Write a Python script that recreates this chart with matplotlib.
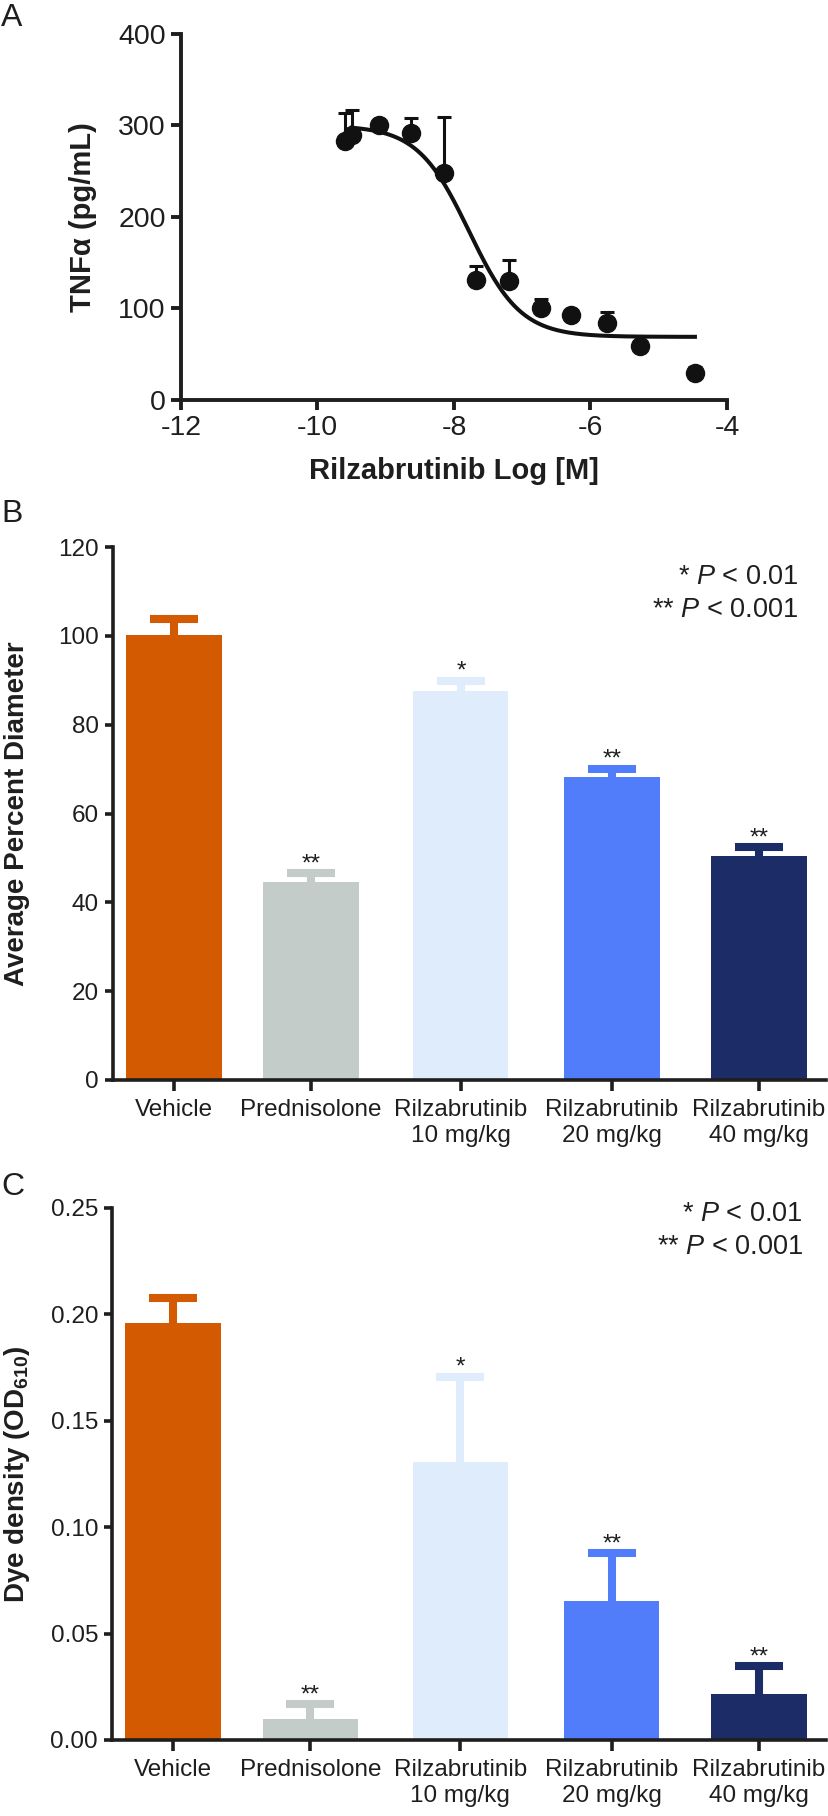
import numpy as np
import matplotlib
matplotlib.use("Agg")
import matplotlib.pyplot as plt

plt.rcParams['font.family'] = ['Liberation Sans', 'DejaVu Sans']
plt.rcParams['axes.unicode_minus'] = False
plt.rcParams['mathtext.fontset'] = 'custom'
plt.rcParams['mathtext.rm'] = 'Liberation Sans'
plt.rcParams['mathtext.it'] = 'Liberation Sans:italic'
plt.rcParams['mathtext.bf'] = 'Liberation Sans:bold'

# ---- panel A data: TNFa vs log concentration ----
log_conc = [-9.60, -9.50, -9.10, -8.63, -8.15, -7.68, -7.19, -6.72, -6.28, -5.76, -5.28, -4.47]
tnf_mean = [283, 290, 300, 292, 248, 131, 130, 100, 93, 84, 59, 30]
tnf_sem = [31, 27, 0, 16, 61, 15, 23, 10, 0, 12, 0, 6]
# 4-parameter logistic fit
fit_top, fit_bottom, fit_logic50, fit_hill = 300, 69, -7.78, 1.15
fit_range = (-9.5, -4.47)

# ---- panels B and C ----
groups = ['Vehicle', 'Prednisolone', 'Rilzabrutinib\n10 mg/kg',
          'Rilzabrutinib\n20 mg/kg', 'Rilzabrutinib\n40 mg/kg']
diameter_mean = [100.2, 44.6, 87.6, 68.3, 50.4]
diameter_sem = [3.6, 1.9, 2.3, 1.8, 2.0]
dye_mean = [0.196, 0.0099, 0.1306, 0.0652, 0.0217]
dye_sem = [0.0117, 0.0070, 0.0402, 0.0226, 0.0129]
stars = ['', '**', '*', '**', '**']

colors = ['#D35A01', '#C4CCCA', '#DEECFC', '#517DFB', '#1B2C66']
bar_pos = [0, 0.937, 1.962, 2.995, 4.0]
ink = '#1E1E1E'

W, H = 829, 1816
fig = plt.figure(figsize=(W / 100, H / 100), dpi=100)


def px_axes(left, top, right, bottom):
    return fig.add_axes([left / W, 1 - bottom / H, (right - left) / W, (bottom - top) / H])


def style(ax, lw):
    for s in ['top', 'right']:
        ax.spines[s].set_visible(False)
    for s in ['left', 'bottom']:
        ax.spines[s].set_linewidth(lw)
        ax.spines[s].set_color(ink)
    ax.tick_params(direction='out', width=lw, color=ink, labelcolor=ink)


# ---------------- A ----------------
axA = px_axes(181, 34, 727, 400)
style(axA, 2.8)
xs = np.linspace(fit_range[0], fit_range[1], 300)
ys = fit_bottom + (fit_top - fit_bottom) / (1 + 10 ** (fit_hill * (xs - fit_logic50)))
axA.plot(xs, ys, color='#111111', lw=2.9, zorder=2)
axA.errorbar(log_conc, tnf_mean, yerr=[np.zeros(len(tnf_sem)), tnf_sem], fmt='o',
             color='#111111', ms=13, elinewidth=2.2, capsize=5, capthick=2.2, zorder=3)
axA.set_xlim(-12, -4)
axA.set_ylim(0, 400)
axA.set_xticks(np.arange(-12, -3, 2))
axA.set_yticks(np.arange(0, 401, 100))
axA.tick_params(length=7, labelsize=20.5, pad=4)
axA.set_xlabel('Rilzabrutinib Log [M]', fontsize=21, fontweight='bold', color=ink)
axA.set_ylabel('TNFα (pg/mL)', fontsize=21, fontweight='bold', color=ink)
axA.xaxis.set_label_coords(0.5, -0.155)
axA.yaxis.set_label_coords(-0.154, 0.5)


def bar_panel(ax, means, sems, ylim, yticks, fmt, ylabel, leg_xy, label_x):
    style(ax, 2.6)
    ax.bar(bar_pos, means, width=0.65, color=colors, zorder=1)
    tops = np.array(means) + np.array(sems)
    ax.vlines(bar_pos, means, tops, colors=colors, lw=5.8, capstyle='butt', zorder=1)
    ax.hlines(tops, np.array(bar_pos) - 0.164, np.array(bar_pos) + 0.164,
              colors=colors, lw=5.8, capstyle='butt', zorder=1)
    for x, t, s in zip(bar_pos, tops, stars):
        if s:
            ax.annotate(s, (x, t), xytext=(0, 2), textcoords='offset points',
                        ha='center', va='baseline', fontsize=17.5, color=ink)
    ax.set_xlim(-0.417, 4.458)
    ax.set_ylim(*ylim)
    ax.set_yticks(yticks)
    ax.yaxis.set_major_formatter(plt.FormatStrFormatter(fmt))
    ax.set_xticks(bar_pos)
    ax.set_xticklabels(groups)
    ax.tick_params(axis='y', length=6, labelsize=17.5, pad=4)
    ax.tick_params(axis='x', length=8, labelsize=17.5, pad=6)
    ax.set_ylabel(ylabel, fontsize=20, fontweight='bold', color=ink)
    ax.yaxis.set_label_coords(label_x, 0.5)
    ax.text(leg_xy[0], leg_xy[1], '* $\\it{P}$ < 0.01', transform=ax.transAxes,
            ha='right', va='center', fontsize=19.5, color=ink)
    ax.text(leg_xy[0], leg_xy[2], '** $\\it{P}$ < 0.001', transform=ax.transAxes,
            ha='right', va='center', fontsize=19.5, color=ink)


# ---------------- B ----------------
axB = px_axes(113, 547, 826, 1080)
bar_panel(axB, diameter_mean, diameter_sem, (0, 120), np.arange(0, 121, 20), '%d',
          'Average Percent Diameter', (0.961, 0.944, 0.882), -0.117)

# ---------------- C ----------------
axC = px_axes(112, 1208, 826, 1740)
bar_panel(axC, dye_mean, dye_sem, (0, 0.25), np.arange(0, 0.251, 0.05), '%.2f',
          'Dye density (OD$_{\\mathbf{610}}$)', (0.968, 0.989, 0.927), -0.112)

# panel letters
for letter, yc in [('A', 18.5), ('B', 514.5), ('C', 1187)]:
    fig.text(1 / W, 1 - yc / H, letter, fontsize=23, ha='left', va='center', color=ink)

fig.savefig('out.png', dpi=100)
